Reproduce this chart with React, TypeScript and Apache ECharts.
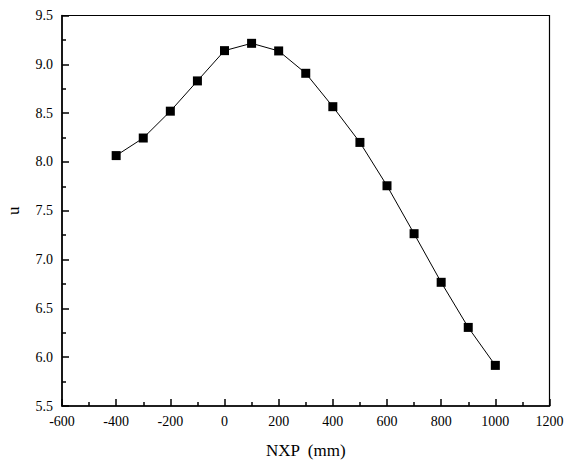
import React, { useEffect, useRef } from "react";
import * as echarts from "echarts";

const xValues = [-400, -300, -200, -100, 0, 100, 200, 300, 400, 500, 600, 700, 800, 900, 1000];
const uValues = [8.065, 8.245, 8.52, 8.83, 9.14, 9.215, 9.137, 8.908, 8.566, 8.2, 7.756, 7.265, 6.767, 6.305, 5.916];

const FONT = "'Times New Roman', 'Liberation Serif', Times, serif";

export default function App() {
  const ref = useRef<HTMLDivElement>(null);
  useEffect(() => {
    if (!ref.current) return;
    const chart = echarts.init(ref.current, undefined, { renderer: "svg" });
    const data = xValues.map((x, i) => [x, uValues[i]]);
    chart.setOption({
      animation: false,
      backgroundColor: "#fff",
      grid: {
        left: 62,
        right: 22.5,
        top: 15.5,
        bottom: 57,
        containLabel: false,
        outerBoundsMode: "none",
        show: true,
        borderColor: "#000",
        borderWidth: 1.2,
        backgroundColor: "transparent",
      },
      xAxis: {
        type: "value",
        min: -600,
        max: 1200,
        interval: 200,
        name: "NXP  (mm)",
        nameLocation: "middle",
        nameGap: 36,
        nameTextStyle: { fontFamily: FONT, fontSize: 17, color: "#000" },
        axisLine: { show: true, onZero: false, lineStyle: { color: "#000", width: 1.5 } },
        axisTick: { show: true, inside: true, length: 7, lineStyle: { color: "#000", width: 1.5 } },
        minorTick: { show: true, splitNumber: 2, length: 4, lineStyle: { color: "#000", width: 1.5 } },
        axisLabel: {
          fontFamily: FONT,
          fontSize: 14,
          color: "#000",
          margin: 8,
          formatter: (v: number) => String(v),
        },
        splitLine: { show: false },
      },
      yAxis: {
        type: "value",
        min: 5.5,
        max: 9.5,
        interval: 0.5,
        name: "u",
        nameLocation: "middle",
        nameGap: 40,
        nameTextStyle: { fontFamily: FONT, fontSize: 17, color: "#000" },
        axisLine: { show: true, onZero: false, lineStyle: { color: "#000", width: 1.5 } },
        axisTick: { show: true, inside: true, length: 7, lineStyle: { color: "#000", width: 1.5 } },
        minorTick: { show: true, splitNumber: 2, length: 4, lineStyle: { color: "#000", width: 1.5 } },
        axisLabel: {
          fontFamily: FONT,
          fontSize: 14,
          color: "#000",
          margin: 9,
          formatter: (v: number) => v.toFixed(1),
        },
        splitLine: { show: false },
      },
      series: [
        {
          type: "line",
          data,
          symbol: "rect",
          symbolSize: 9,
          itemStyle: { color: "#000" },
          lineStyle: { color: "#000", width: 1 },
        },
      ],
    });
    return () => chart.dispose();
  }, []);
  return <div ref={ref} style={{ width: 572, height: 463, position: "absolute", left: 0, top: 0 }} />;
}
